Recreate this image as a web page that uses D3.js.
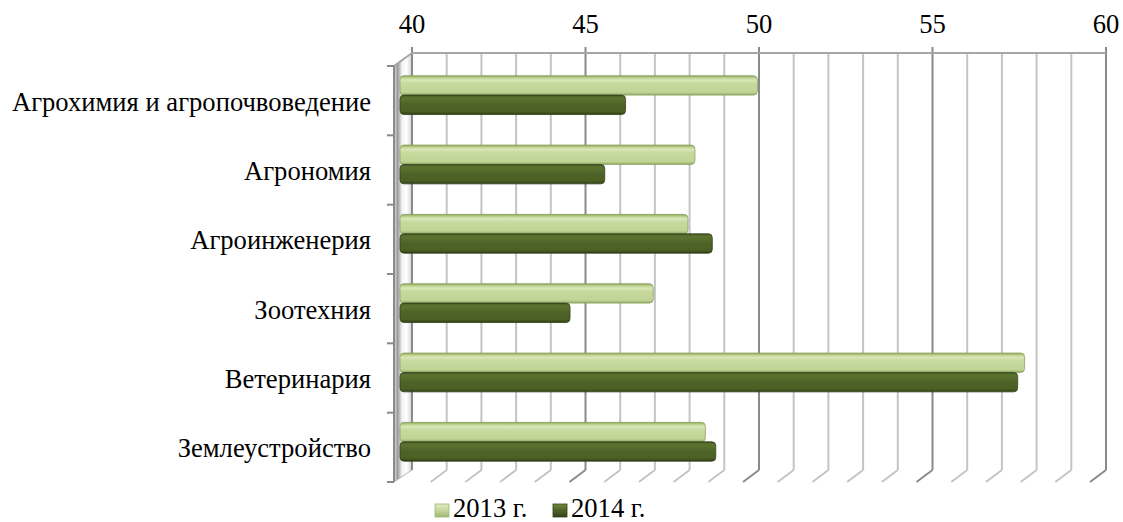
<!DOCTYPE html>
<html><head><meta charset="utf-8">
<script src="https://cdn.jsdelivr.net/npm/d3@7"></script>
<style>html,body{margin:0;padding:0;background:#fff;}svg{display:block;}</style>
</head><body>
<svg id="chart" width="1123" height="522"></svg>
<script>
const categories = ["Агрохимия и агропочвоведение","Агрономия","Агроинженерия","Зоотехния","Ветеринария","Землеустройство"];
const values2013 = [50.3, 48.5, 48.3, 47.3, 58.0, 48.8];
const values2014 = [46.5, 45.9, 49.0, 44.9, 57.8, 49.1];
const seriesNames = ["2013 г.", "2014 г."];
const tickValues = [40, 45, 50, 55, 60];

const svg = d3.select("#chart");
const FONT = '"Times New Roman", "Liberation Serif", serif';
const FS = 26.6;

const backLeft = 412, backRight = 1106, backTop = 53, backBottom = 470;
const dx = -18, dy = 13;
const barShift = -12;
const x = d3.scaleLinear().domain([40, 60]).range([backLeft, backRight]);
const xBar = d3.scaleLinear().domain([40, 60]).range([backLeft + barShift, backRight + barShift]);
const y = d3.scaleBand().domain(categories).range([backTop + dy, backBottom + 12]);

const defs = svg.append("defs");
function vgrad(id, stops) {
  const g = defs.append("linearGradient").attr("id", id).attr("x1", 0).attr("y1", 0).attr("x2", 0).attr("y2", 1);
  stops.forEach(s => g.append("stop").attr("offset", s[0]).attr("stop-color", s[1]));
}
function hgrad(id, stops) {
  const g = defs.append("linearGradient").attr("id", id).attr("x1", 0).attr("y1", 0).attr("x2", 1).attr("y2", 0);
  stops.forEach(s => g.append("stop").attr("offset", s[0]).attr("stop-color", s[1]));
}
vgrad("g2013", [[0, "#8fa65c"], [0.1, "#b9cf8a"], [0.22, "#d9e7b8"], [0.4, "#c6d99e"], [0.85, "#c0d496"], [1, "#93aa64"]]);
vgrad("g2014", [[0, "#3a4a1a"], [0.1, "#5a7030"], [0.25, "#58702e"], [0.45, "#4f6428"], [0.85, "#4b5f25"], [1, "#2f3c14"]]);
hgrad("wall", [[0, "#e6e6e6"], [0.2, "#9a9a9a"], [0.45, "#f4f4f4"], [0.7, "#ffffff"], [1, "#d0d0d0"]]);
vgrad("leg2013", [[0, "#dfeac4"], [0.5, "#c4d79b"], [1, "#9fb873"]]);
vgrad("leg2014", [[0, "#6f8a3a"], [0.5, "#4f6228"], [1, "#34421a"]]);

svg.append("path")
  .attr("d", `M${backLeft + dx},${backTop + dy} L${backLeft},${backTop} L${backLeft},${backBottom} L${backLeft + dx},${backBottom + 12} Z`)
  .attr("fill", "url(#wall)").attr("stroke", "#b8b8b8").attr("stroke-width", 1);

const minor = d3.range(40, 61, 1);
svg.append("g").selectAll("line").data(minor).join("line")
  .attr("x1", d => x(d)).attr("x2", d => x(d))
  .attr("y1", d => d % 5 === 0 ? backTop - 6 : backTop).attr("y2", backBottom)
  .attr("stroke", d => d % 5 === 0 ? "#8a8a8a" : "#c4c4c4")
  .attr("stroke-width", 2);
svg.append("g").selectAll("line").data(minor.filter(d => d > 40)).join("line")
  .attr("x1", d => x(d)).attr("x2", d => x(d) - 16)
  .attr("y1", backBottom).attr("y2", backBottom + 12)
  .attr("stroke", d => d % 5 === 0 ? "#8a8a8a" : "#c4c4c4")
  .attr("stroke-width", 2);
svg.append("line").attr("x1", backLeft).attr("x2", backRight).attr("y1", backTop).attr("y2", backTop)
  .attr("stroke", "#a6a6a6").attr("stroke-width", 2);
svg.append("line").attr("x1", backLeft + dx).attr("x2", backLeft).attr("y1", backTop + dy).attr("y2", backTop)
  .attr("stroke", "#a6a6a6").attr("stroke-width", 2);

svg.append("g").selectAll("text").data(tickValues).join("text")
  .attr("x", d => x(d)).attr("y", 33)
  .attr("text-anchor", "middle")
  .style("font-family", FONT).attr("font-size", FS).attr("fill", "#000")
  .text(d => d);

const axX = backLeft + dx;
svg.append("line").attr("x1", axX).attr("x2", axX).attr("y1", backTop + dy).attr("y2", backBottom + 12)
  .attr("stroke", "#8a8a8a").attr("stroke-width", 2);
const bounds = categories.map(c => y(c)).concat([y.range()[1]]);
svg.append("g").selectAll("line").data(bounds).join("line")
  .attr("x1", axX - 7).attr("x2", axX).attr("y1", d => d).attr("y2", d => d)
  .attr("stroke", "#8a8a8a").attr("stroke-width", 2);

svg.append("g").selectAll("text").data(categories).join("text")
  .attr("x", 371).attr("y", d => y(d) + y.bandwidth() / 2 + 10)
  .attr("text-anchor", "end")
  .style("font-family", FONT).attr("font-size", FS).attr("fill", "#000")
  .text(d => d);

const bw = y.bandwidth();
const barH = bw * 0.28;
const data = categories.map((c, i) => ({ c, v: [values2013[i], values2014[i]] }));
const gBars = svg.append("g");
[0, 1].forEach(s => {
  gBars.selectAll(null).data(data).join("rect")
    .attr("x", xBar(40))
    .attr("y", d => y(d.c) + bw * 0.14 + s * barH)
    .attr("width", d => xBar(d.v[s]) - xBar(40))
    .attr("height", barH)
    .attr("rx", 4).attr("ry", 4)
    .attr("fill", s === 0 ? "url(#g2013)" : "url(#g2014)")
    .attr("stroke", s === 0 ? "#8ea25e" : "#34431a")
    .attr("stroke-width", 0.8);
});

const legX = [435, 553];
const lg = svg.append("g");
seriesNames.forEach((n, i) => {
  lg.append("rect").attr("x", legX[i]).attr("y", 504).attr("width", 14).attr("height", 13)
    .attr("fill", i === 0 ? "url(#leg2013)" : "url(#leg2014)")
    .attr("stroke", i === 0 ? "#9fb873" : "#34421a").attr("stroke-width", 0.8);
  lg.append("text").attr("x", legX[i] + 18).attr("y", 517)
    .style("font-family", FONT).attr("font-size", FS).attr("fill", "#000")
    .text(n);
});
</script>
</body></html>
